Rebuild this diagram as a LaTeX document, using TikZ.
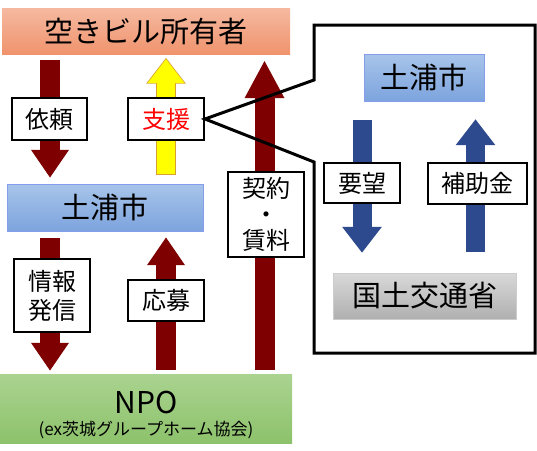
\documentclass[tikz,border=0pt]{standalone}
\usepackage{fontspec}
\setmainfont{Carlito}
\newfontfamily\jp{Noto Sans CJK JP}
\usetikzlibrary{arrows.meta, backgrounds}

\definecolor{darkred}{HTML}{7F0000}
\definecolor{navy}{HTML}{2E4A8E}
\definecolor{salmontop}{HTML}{F5B9A0}
\definecolor{salmonbot}{HTML}{F0936D}
\definecolor{skytop}{HTML}{A7C4EA}
\definecolor{skybot}{HTML}{7DA4DE}
\definecolor{leaftop}{HTML}{AAD390}
\definecolor{leafbot}{HTML}{8DC26B}
\definecolor{sunny}{HTML}{FFFF00}
\definecolor{sunnyedge}{HTML}{D9A030}

\begin{document}
\begin{tikzpicture}[x=1pt,y=-1pt]
      \tikzset{actor/.style = {shape=rectangle,inner sep=0pt,font=\jp\fontsize{29}{32}\selectfont}}
      \tikzset{tag/.style = {shape=rectangle,draw,line width=2pt,fill=white,inner sep=0pt,
          align=center,font=\jp\fontsize{24}{29}\selectfont}}
      \tikzset{redflow/.style = {darkred,line width=20pt,-{Triangle[width=36pt,length=28pt]}}}
      \tikzset{blueflow/.style = {navy,line width=19pt,-{Triangle[width=38pt,length=26pt]}}}
      \useasboundingbox (0,0) rectangle (537,450);
      % actors
      \node[actor,minimum width=288pt,minimum height=46pt,top color=salmontop,
          bottom color=salmonbot] (owner) at (146,31) {空きビル所有者};
      \node[actor,minimum width=196pt,minimum height=47pt,draw=skytop!80!blue,
          top color=skytop,bottom color=skybot] (city) at (105,207.5) {土浦市};
      \node[actor,minimum width=292pt,minimum height=69pt,align=center,
          top color=leaftop,bottom color=leafbot]
          (npo) at (146,408.5) {\fontsize{30}{26}\selectfont\rule{0pt}{36pt}NPO\\[-10pt]
          \fontsize{17}{20}\selectfont (ex{\jp 茨城グループホーム協会})};
      % labels
      \node[tag,minimum width=75pt,minimum height=42pt] (irai) at (49.5,119) {依頼};
      \node[tag,minimum width=76pt,minimum height=42pt,text=red] (shien) at (166,119) {支援};
      \node[tag,minimum width=76pt,minimum height=85pt,font=\jp\fontsize{24}{26}\selectfont]
          (keiyaku) at (266,214.5) {契約\\・\\賃料};
      \node[tag,minimum width=76pt,minimum height=73pt] (jouhou) at (52,295.5) {情報\\発信};
      \node[tag,minimum width=76pt,minimum height=41pt] (oubo) at (166,300.5) {応募};
      % callout
      \draw[line width=3pt,line join=miter] (314,25) -- (535,25) -- (535,353) -- (314,353)
          -- (314,162) -- (shien.east) -- (314,80) -- cycle;
      \node[actor,minimum width=120pt,minimum height=47pt,draw=skytop!80!blue,
          top color=skytop,bottom color=skybot] (city2) at (424,77.5) {土浦市};
      \node[actor,minimum width=183pt,minimum height=46pt,draw=black!20,
          top color=black!15,bottom color=black!31] (mlit) at (424.5,296) {国土交通省};
      \node[tag,minimum width=76pt,minimum height=40pt] (youbou) at (362,183) {要望};
      \node[tag,minimum width=99pt,minimum height=41pt] (hojokin) at (477.5,183.5) {補助金};
      % flows
      \begin{scope}[on background layer]
      \draw[redflow,shorten <=6pt,shorten >=6pt] (owner.south -| 50,0) -- (city.north -| 50,0);
      \draw[redflow,shorten <=7pt,shorten >=3pt] (city.south -| 50,0) -- (npo.north -| 50,0);
      \draw[redflow,shorten <=4pt,shorten >=6pt] (npo.north -| oubo) -- (city.south -| oubo);
      \draw[redflow,-{Triangle[width=37pt,length=38pt]},shorten <=4pt,shorten >=6pt]
          (npo.north -| 264.5,0) -- (owner.south -| 264.5,0);
      \draw[sunnyedge,line width=19.5pt,-{Triangle[width=38pt,length=26pt]},shorten <=8.5pt,shorten >=3.5pt]
          (city.north -| shien) -- (owner.south -| shien);
      \draw[sunny,line width=17.5pt,-{Triangle[width=35pt,length=24pt]},shorten <=9.5pt,shorten >=4.8pt]
          (city.north -| shien) -- (owner.south -| shien);
      \draw[blueflow,shorten <=19pt,shorten >=20pt] (city2.south -| youbou) -- (mlit.north -| youbou);
      \draw[blueflow,shorten <=21pt,shorten >=18pt] (mlit.north -| 475.5,0) -- (city2.south -| 475.5,0);
      \end{scope}
\end{tikzpicture}
\end{document}
